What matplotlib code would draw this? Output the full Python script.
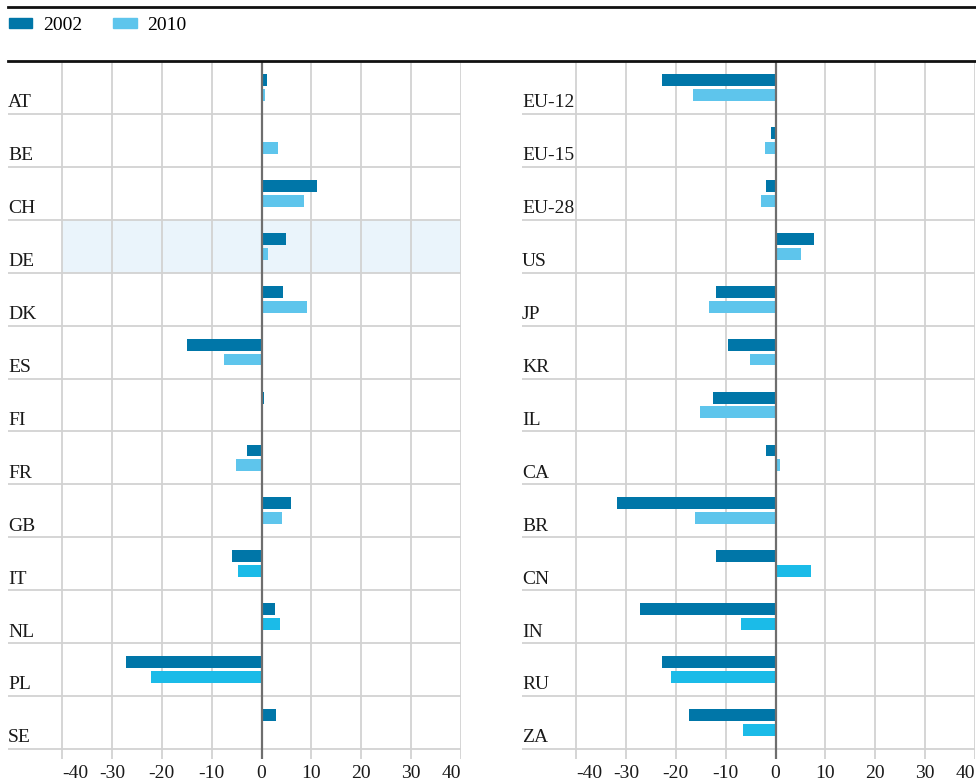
import numpy as np
import matplotlib
matplotlib.use("Agg")
import matplotlib.pyplot as plt
from matplotlib.lines import Line2D
from matplotlib.patches import Patch

plt.rcParams['font.family'] = ['Liberation Serif', 'DejaVu Serif']

# data
left_cats = ['AT', 'BE', 'CH', 'DE', 'DK', 'ES', 'FI', 'FR', 'GB', 'IT', 'NL', 'PL', 'SE']
left_2002 = [1.1, -0.2, 11.2, 4.9, 4.3, -15.0, 0.6, -3.0, 6.0, -6.0, 2.8, -27.1, 2.9]
left_2010 = [0.7, 3.3, 8.6, 1.3, 9.2, -7.6, 0.3, -5.2, 4.1, -4.8, 3.7, -22.1, 0.1]

right_cats = ['EU-12', 'EU-15', 'EU-28', 'US', 'JP', 'KR', 'IL', 'CA', 'BR', 'CN', 'IN', 'RU', 'ZA']
right_2002 = [-22.8, -1.0, -2.0, 7.7, -12.0, -9.6, -12.6, -2.0, -31.8, -12.0, -27.2, -22.8, -17.4]
right_2010 = [-16.6, -2.2, -3.0, 5.1, -13.4, -5.2, -15.2, 0.9, -16.2, 7.1, -7.0, -21.0, -6.6]

series_names = ['2002', '2010']
xticks = [-40, -30, -20, -10, 0, 10, 20, 30, 40]
highlight_row = 'DE'
# 2010 bars drawn in the stronger cyan
strong_2010 = ['IT', 'NL', 'PL', 'SE', 'CN', 'IN', 'RU', 'ZA']

C2002 = '#0076A8'
C2010 = '#5EC5EC'
C2010B = '#1BBBE8'
GRID = '#D2D2D2'

W, H = 976, 783
fig = plt.figure(figsize=(W / 100, H / 100), dpi=100)

row_h = (749 - 61) / 13.0
extra = (759 - 749) / row_h
scale = (461 - 62) / 80.0           # px per unit
xmin = -40 - (62 - 8) / scale      # axes starts at the category labels


def panel(x0, cats, v02, v10):
    ax = fig.add_axes([x0 / W, 1 - 759 / H, 453 / W, (759 - 61) / H])
    n = len(cats)
    ax.set_xlim(xmin, 40)
    ax.set_ylim(n + extra, 0)
    for s in ax.spines.values():
        s.set_visible(False)
    ax.set_yticks([])
    ax.tick_params(axis='x', length=0, labelsize=14, pad=4, colors='#1a1a1a')
    ax.set_xticks(xticks)
    labels = ax.set_xticklabels([str(t) for t in xticks])
    labels[0].set_ha('left')
    labels[-1].set_ha('right')

    if highlight_row in cats:
        i = cats.index(highlight_row)
        ax.fill_between([-40, 40], i, i + 1, color='#EAF4FB', lw=0, zorder=0)
    for t in xticks:
        if t != 0:
            ax.axvline(t, color=GRID, lw=1.3, zorder=1)
    for i in range(1, n + 1):
        ax.axhline(i, color=GRID, lw=1.3, zorder=1)

    y = np.arange(n)
    ax.barh(y + 0.36, v02, height=0.225, color=C2002, zorder=2)
    cols10 = [C2010B if c in strong_2010 else C2010 for c in cats]
    ax.barh(y + 0.64, v10, height=0.225, color=cols10, zorder=2)
    ax.axvline(0, color='#6E6E6E', lw=1.6, zorder=3)

    for i, c in enumerate(cats):
        ax.text(xmin, i + 0.95, c, ha='left', va='bottom', fontsize=14,
                color='#1a1a1a')
    return ax


panel(8, left_cats, left_2002, left_2010)
panel(522, right_cats, right_2002, right_2010)

# header rules
for yy in (7, 61):
    fig.add_artist(Line2D([8 / W, 1.0], [1 - yy / H, 1 - yy / H],
                          color='#111111', lw=2))

handles = [Patch(color=C2002), Patch(color=C2010)]
fig.legend(handles, series_names, loc='upper left',
           bbox_to_anchor=(1 / W, 1 - 9 / H), ncol=2, frameon=False,
           fontsize=14, handlelength=1.2, handleheight=0.4,
           handletextpad=0.55, columnspacing=1.6, borderaxespad=0)

fig.savefig('out.png', dpi=100)
